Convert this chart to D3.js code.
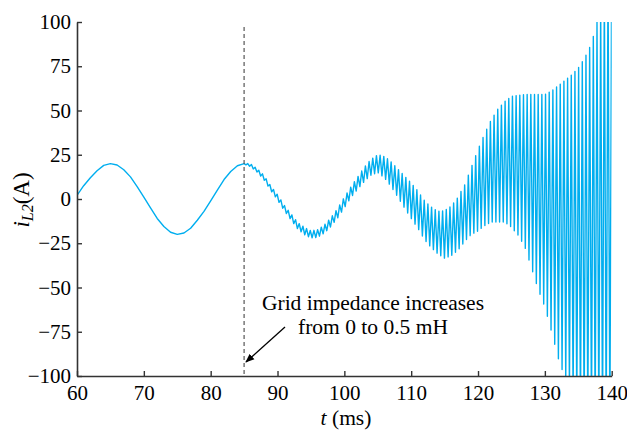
<!DOCTYPE html>
<html><head><meta charset="utf-8">
<script src="https://cdn.jsdelivr.net/npm/d3@7"></script>
<style>body{margin:0;background:#fff}</style>
</head><body><svg id="c" width="627" height="431"></svg>
<script>
// ---- data ----
const xTicks = [60, 70, 80, 90, 100, 110, 120, 130, 140];
const yTicks = [-100, -75, -50, -25, 0, 25, 50, 75, 100];
// steady state 60–85 ms, sampled every 1 ms
const tSteady = [60,61,62,63,64,65,66,67,68,69,70,71,72,73,74,75,76,77,78,79,80,81,82,83,84];
const iSteady = [2,7.5,12,16,19,20,19.2,16.5,12.5,7,1,-5,-11,-15.5,-18.8,-20,-19.2,-16.5,-12,-7,-1,5,11,15.5,18.8];
// after the impedance step (85 ms): successive maxima / minima of each oscillation cycle
const oscStart = 85;      // ms
const oscPeriod = 0.55;   // ms, period of the resonance oscillation
const iMax = [20,20,19.5,18,16.2,14.2,11.4,8.2,5.4,2.7,-0.5,-3.7,-6.4,-9,-11.7,-13.9,-15.4,-16.7,-17.8,-17.7,
  -17.3,-15.9,-14.3,-12,-9.5,-6.6,-3.4,0.1,3.4,6.7,9.8,12.8,15.8,18.7,21.2,23.1,24.5,24.7,24.1,22.7,
  21,18.8,16.6,14.4,12.2,10,7.7,5.2,2.3,-0.7,-2.8,-4.6,-6,-6.9,-6.7,-5.9,-4.5,-2.3,0.5,4.2,
  8,13.5,19,24.5,29.8,34.8,39.4,43.8,47.4,50.7,53,55.2,56.8,58.1,58.4,58.6,58.9,59,59,59,
  59,59,59.2,60.3,61.6,63.3,64.9,66.6,68.2,69.9,72,74.3,77.6,81.2,85.6,91.8,100,109,118,127.7,137];
const iMin = [19.3,18.5,17,15.2,13,10.6,7.3,4.1,1.2,-1.9,-5.2,-8.2,-11.1,-13.9,-16.7,-18.5,-20.2,-21.3,-21.9,-21.8,
  -21,-19.7,-17.9,-15.8,-13.2,-10.6,-7.4,-4.3,-1,2,4.5,7,9.4,11.5,13.4,14.3,14.8,13.1,11.1,8.4,
  5.4,2.1,-1.3,-4.6,-7.9,-11.1,-14.2,-17.3,-20.9,-24,-26.5,-28.6,-30.6,-32.1,-33.4,-32.7,-31.8,-30.1,-28.1,-25.4,
  -22.9,-20.7,-19.3,-18.2,-16.6,-15,-13.9,-13,-13,-13,-13,-14,-15.6,-17.9,-20.4,-23.9,-27.9,-34.5,-41.1,-47.7,
  -53.8,-59.3,-66.3,-74,-82.1,-90.3,-96.3,-102.4,-108.4,-113.8,-118.2,-121.3,-123.5,-124,-124,-125.6,-127.2,-128.9,-130.5,-132.2];
const eventTime = 85;
const noteLines = ["Grid impedance increases", "from 0 to 0.5 mH"];

// ---- drawing ----
const svg = d3.select("#c");
const x = d3.scaleLinear().domain([60, 140]).range([77, 611.7]);
const y = d3.scaleLinear().domain([-100, 100]).range([376, 22]);
const font = "'Liberation Serif','Times New Roman',serif";

const pts = tSteady.map((t, i) => [t, iSteady[i]]);
iMax.forEach((v, k) => {
  const t = oscStart + k * oscPeriod;
  pts.push([t, v]);
  if (k < iMin.length) pts.push([t + oscPeriod / 2, iMin[k]]);
});

const defs = svg.append("defs");
defs.append("clipPath").attr("id", "clip")
  .append("rect").attr("x", 77).attr("y", 22).attr("width", 611.7 - 77).attr("height", 376 - 22);

svg.append("path").datum(pts)
  .attr("clip-path", "url(#clip)")
  .attr("fill", "none").attr("stroke", "#00AEEF").attr("stroke-width", 1.4)
  .attr("stroke-linejoin", "round")
  .attr("d", d3.line().x(d => x(d[0])).y(d => y(d[1])));

// dashed event line
svg.append("line").attr("x1", x(eventTime)).attr("x2", x(eventTime))
  .attr("y1", 27).attr("y2", 376)
  .attr("stroke", "#555").attr("stroke-width", 1.2).attr("stroke-dasharray", "4,3");

// axes
const yAxis = svg.append("g").attr("transform", "translate(77,0)")
  .call(d3.axisLeft(y).tickValues(yTicks).tickSizeInner(-5).tickSizeOuter(0).tickPadding(6).tickFormat(d3.format("d")));
const xAxis = svg.append("g").attr("transform", "translate(0,376)")
  .call(d3.axisBottom(x).tickValues(xTicks).tickSizeInner(-5).tickSizeOuter(0).tickPadding(9).tickFormat(d3.format("d")));
[xAxis, yAxis].forEach(g => {
  g.select(".domain").attr("stroke", "#333").attr("stroke-width", 1.6);
  g.selectAll(".tick line").attr("stroke", "#333").attr("stroke-width", 1.4);
  g.selectAll(".tick text").attr("fill", "#000").style("font-family", font).style("font-size", "21px");
});
yAxis.selectAll(".tick text").attr("x", -6);

// axis titles
const xl = svg.append("text").attr("x", 346).attr("y", 425).attr("text-anchor", "middle")
  .style("font-family", font).style("font-size", "21.5px").attr("fill", "#000");
xl.append("tspan").style("font-style", "italic").text("t");
xl.append("tspan").text(" (ms)");

const yl = svg.append("text").attr("transform", "translate(29,200) rotate(-90)").attr("text-anchor", "middle")
  .style("font-family", font).style("font-size", "23px").attr("fill", "#000");
yl.append("tspan").style("font-style", "italic").text("i");
yl.append("tspan").style("font-style", "italic").style("font-size", "16px").attr("dy", 4).text("L2");
yl.append("tspan").attr("dy", -4).text("(A)");

// annotation
noteLines.forEach((s, i) => {
  svg.append("text").attr("x", 373).attr("y", 310 + i * 24).attr("text-anchor", "middle")
    .style("font-family", font).style("font-size", "21.5px").attr("fill", "#000").text(s);
});
defs.append("marker").attr("id", "arr").attr("viewBox", "0 0 10 10")
  .attr("refX", 9).attr("refY", 5).attr("markerWidth", 9).attr("markerHeight", 9)
  .attr("orient", "auto").attr("markerUnits", "userSpaceOnUse")
  .append("path").attr("d", "M0,1 L10,5 L0,9 Z").attr("fill", "#000");
svg.append("line").attr("x1", 285).attr("y1", 327).attr("x2", 246).attr("y2", 362)
  .attr("stroke", "#000").attr("stroke-width", 1.3).attr("marker-end", "url(#arr)");
</script></body></html>
